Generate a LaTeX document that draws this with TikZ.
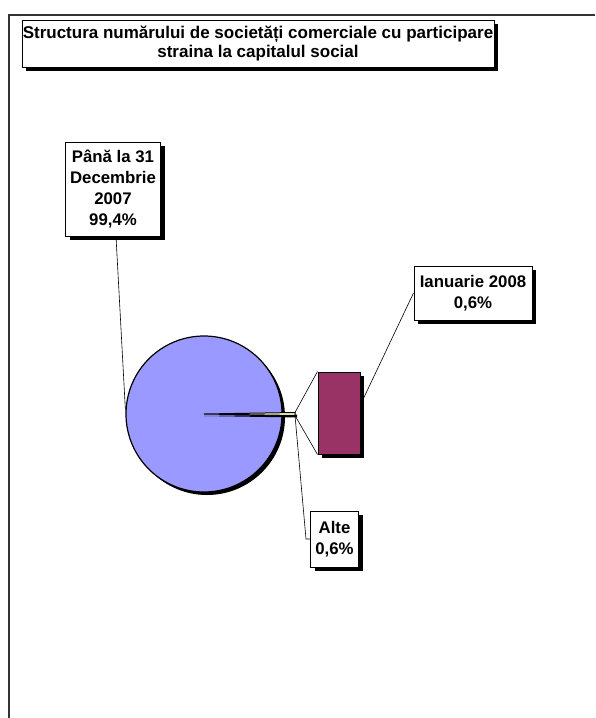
\documentclass[tikz,border=0pt]{standalone}
\usepackage{fontspec}
\setmainfont{Liberation Sans}
\usetikzlibrary{positioning,shadows,calc}
\definecolor{piefill}{RGB}{153,153,255}
\definecolor{barfill}{RGB}{153,51,102}
\definecolor{altefill}{RGB}{255,255,204}
\tikzset{
  shd/.style={drop shadow={shadow xshift=4pt,shadow yshift=-4pt,opacity=1,fill=black}},
  lbl/.style={draw,fill=white,line width=1pt,align=center,inner sep=0pt,shd,
              font=\fontsize{16.8}{21}\selectfont\bfseries},
  lead/.style={line width=0.6pt},
}
\begin{document}
\begin{tikzpicture}[x=1pt,y=-1pt]
\useasboundingbox (0,0) rectangle (595,718);
% cadre
\draw[line width=1.6pt,black!80](9,718)--(9,15)--(595,15);
\node[lbl,minimum width=472,minimum height=47,font=\fontsize{17}{19.5}\selectfont\bfseries](titre)at(258,43.5)
  {Structura numărului de societăți comerciale cu participare\\straina la capitalul social};
% camembert
\node[circle,draw,line width=1.2pt,fill=piefill,minimum size=156,inner sep=0pt,
      drop shadow={shadow xshift=3pt,shadow yshift=-3pt,opacity=1,fill=black}](pie)at(204,414){};
\coordinate(slA)at(295,412.5);
\coordinate(slB)at(295,415.5);
\fill[black]($(pie.center)+(0,2)$)--($(slA)+(2,2)$)--($(slB)+(2,2)$)--cycle;
\draw[fill=altefill,line width=1pt](pie.center)--(slA)--(slB)--cycle;
% barre
\node[draw,line width=1pt,fill=barfill,minimum width=42,minimum height=82,inner sep=0pt,shd](bar)at(339,413){};
\draw[lead](slA)--(bar.north west);
\draw[lead](slB)--(bar.south west);
% etiquettes
\node[lbl,minimum width=95,minimum height=94](pana)at(113,189)
  {Până la 31\\Decembrie\\2007\\99,4\%};
\node[lbl,minimum width=118,minimum height=54](ian)at(473,293)
  {Ianuarie 2008\\0,6\%};
\node[lbl,minimum width=48,minimum height=56](alte)at(334.5,539)
  {Alte\\0,6\%};
\draw[lead]($(pana.south)+(3,0)$)--($(pie.west)+(0,-4)$);
\draw[lead](ian.west)--($(bar.north east)!0.4!(bar.south east)$);
\draw[lead](slB)--($(alte.west)+(-4,0)$)--(alte.west);
\end{tikzpicture}
\end{document}
